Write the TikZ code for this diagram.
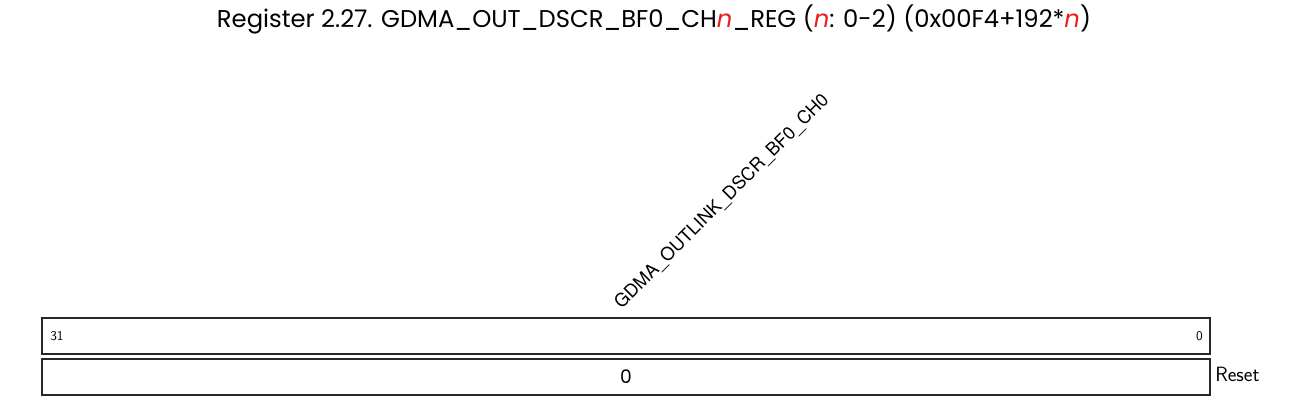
\documentclass[tikz,border=0pt]{standalone}
\usepackage{fontspec}
\setmainfont{TeX Gyre Heros}
\newfontfamily\lmsans{Latin Modern Sans}
\newfontfamily\titlefont{Poppins}
\definecolor{boxline}{RGB}{40,40,40}
\definecolor{nred}{RGB}{230,30,30}
\begin{document}
\begin{tikzpicture}[x=0.75pt,y=-0.75pt,
  regbox/.style={draw=boxline,line width=0.9pt},
  bitnum/.style={font=\lmsans\fontsize{10}{11}\selectfont,inner sep=0pt},
  fieldlabel/.style={font=\fontsize{13.6}{14}\selectfont,rotate=45,anchor=south west,inner sep=0pt}]
\useasboundingbox (0,0) rectangle (1313,416);
\node[font=\titlefont\fontsize{18.2}{20}\selectfont,inner sep=0pt,anchor=base] (title) at (654,28)
  {Register 2.27. GDMA\_OUT\_DSCR\_BF0\_CH\textcolor{nred}{\textit{n}}\_REG (\textcolor{nred}{\textit{n}}: 0-2) (0x00F4+192*\textcolor{nred}{\textit{n}})};
\draw[regbox] (42,318) rectangle (1210,354);
\draw[regbox] (42,359) rectangle (1210,395);
\coordinate (fieldtop) at (624,312);
\node[fieldlabel] (field) at (fieldtop) {GDMA\_OUTLINK\_DSCR\_BF0\_CH0};
\node[bitnum,anchor=west] (b31) at (50,336) {31};
\node[bitnum,anchor=east] (b0) at (1203,336) {0};
\node[font=\titlefont\fontsize{14}{15}\selectfont,inner sep=0pt] (reset0) at (626,377) {0};
\node[font=\lmsans\fontsize{15.5}{16}\selectfont,inner sep=0pt,anchor=base west] (reset) at (1215,382) {Reset};
\end{tikzpicture}
\end{document}
